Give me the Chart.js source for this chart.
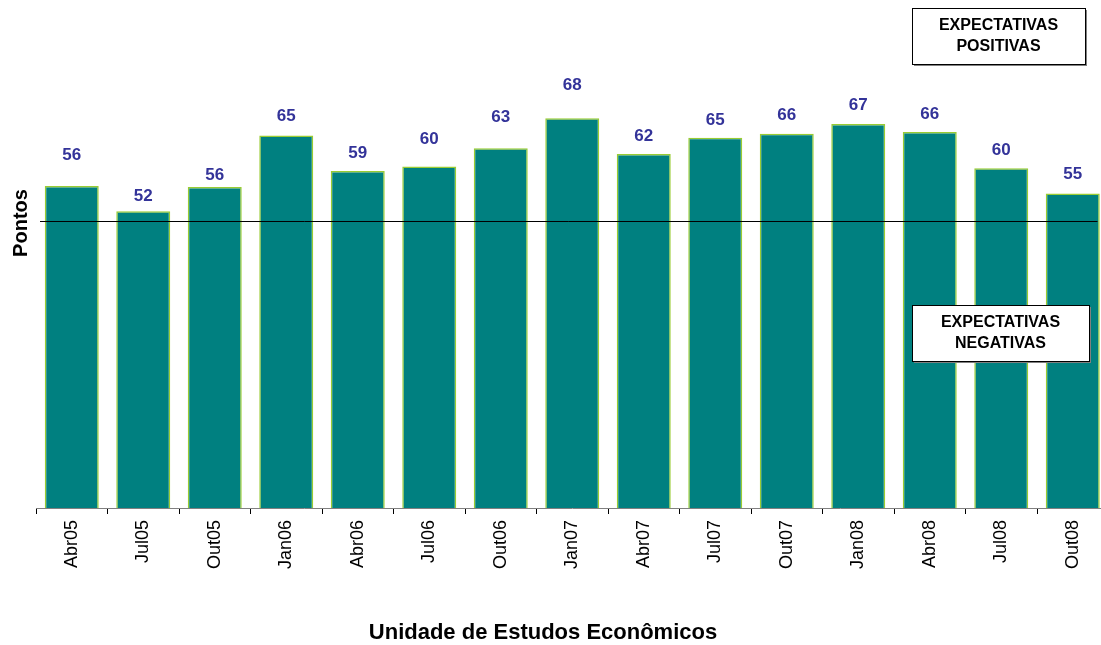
<!DOCTYPE html>
<html>
<head>
<meta charset="utf-8">
<script src="https://cdn.jsdelivr.net/npm/chart.js@4.4.0/dist/chart.umd.min.js"></script>
<style>
  html,body{margin:0;padding:0;background:#fff;overflow:hidden;}
  #wrap{width:1110px;height:645px;}
</style>
</head>
<body>
<div id="wrap"><canvas id="pontosChart" width="1110" height="645"></canvas></div>
<script>
// ===================== DADOS =====================
const meses=['Abr05','Jul05','Out05','Jan06','Abr06','Jul06','Out06','Jan07','Abr07','Jul07','Out07','Jan08','Abr08','Jul08','Out08'];
const pontos=[56.2,51.8,56.0,65.0,58.8,59.6,62.8,68.0,61.8,64.6,65.3,67.0,65.6,59.3,54.9];
const rotulos=[56,52,56,65,59,60,63,68,62,65,66,67,66,60,55];
const linhaNeutra=50;
const yMin=0, yMax=80;

// distância (px) do rótulo acima da barra — só estilo
const liftRotulo=[31,15,12,19,18,27,31,33,18,18,19,19,18,18,19];

const FONTE='"Liberation Sans", Arial, sans-serif';

// ===================== PLUGIN: textos e linha =====================
const extras={
  id:'extras',
  afterDatasetsDraw(chart){
    const ctx=chart.ctx, area=chart.chartArea, y=chart.scales.y;
    ctx.save();
    // linha dos 50 pontos
    const yl=Math.round(y.getPixelForValue(linhaNeutra))+0.5;
    ctx.strokeStyle='#000';ctx.lineWidth=1;
    ctx.beginPath();ctx.moveTo(area.left+4,yl);ctx.lineTo(area.right-11,yl);ctx.stroke();

    // rótulos das barras
    ctx.fillStyle='#333399';
    ctx.font='bold 17px '+FONTE;
    ctx.textAlign='center';ctx.textBaseline='middle';
    chart.getDatasetMeta(0).data.forEach((bar,i)=>{
      ctx.fillText(String(rotulos[i]),bar.x,bar.y-liftRotulo[i]);
    });

    // caixas de expectativas
    caixa(ctx,912,8,173,56,['EXPECTATIVAS','POSITIVAS']);
    caixa(ctx,912,305,177,56,['EXPECTATIVAS','NEGATIVAS']);

    // título do eixo Y
    ctx.save();
    ctx.translate(21,223);ctx.rotate(-Math.PI/2);
    ctx.fillStyle='#000';ctx.font='bold 20px '+FONTE;
    ctx.textAlign='center';ctx.textBaseline='middle';
    ctx.fillText('Pontos',0,0);
    ctx.restore();

    // rodapé
    ctx.fillStyle='#000';ctx.font='bold 22px '+FONTE;
    ctx.textAlign='center';ctx.textBaseline='middle';
    ctx.fillText('Unidade de Estudos Econômicos',543,633);
    ctx.restore();
  }
};

function caixa(ctx,x,y,w,h,linhas){
  ctx.fillStyle='#808080';ctx.fillRect(x+2,y+2,w,h);
  ctx.fillStyle='#fff';ctx.fillRect(x,y,w,h);
  ctx.strokeStyle='#000';ctx.lineWidth=1;ctx.strokeRect(x+0.5,y+0.5,w,h);
  ctx.fillStyle='#000';ctx.font='bold 16px '+FONTE;
  ctx.textAlign='center';ctx.textBaseline='middle';
  ctx.fillText(linhas[0],x+w/2,y+h/2-10.5);
  ctx.fillText(linhas[1],x+w/2,y+h/2+10.5);
}

// ===================== GRÁFICO =====================
new Chart(document.getElementById('pontosChart').getContext('2d'),{type:'bar',
  data:{labels:meses,datasets:[{
    data:pontos,
    backgroundColor:'#008080',
    borderColor:'#99cc33',
    borderWidth:1.5,
    borderSkipped:'bottom',
    categoryPercentage:1,
    barPercentage:0.755,
  }]},
  options:{responsive:false,animation:false,devicePixelRatio:1,
    layout:{padding:{left:36,right:1.5,top:49.6,bottom:0}},
    plugins:{legend:{display:false},tooltip:{enabled:false}},
    scales:{
      x:{offset:true,
        grid:{display:true,drawOnChartArea:false,drawTicks:true,tickLength:6,color:'#000',offset:true},
        border:{display:true,color:'#808080',width:1},
        ticks:{color:'#000',font:{family:FONTE,size:18},autoSkip:false,minRotation:90,maxRotation:90,padding:6},
        afterFit:s=>{s.height=137;}},
      y:{display:false,min:yMin,max:yMax}
    }},
  plugins:[extras]
});
</script>
</body>
</html>
